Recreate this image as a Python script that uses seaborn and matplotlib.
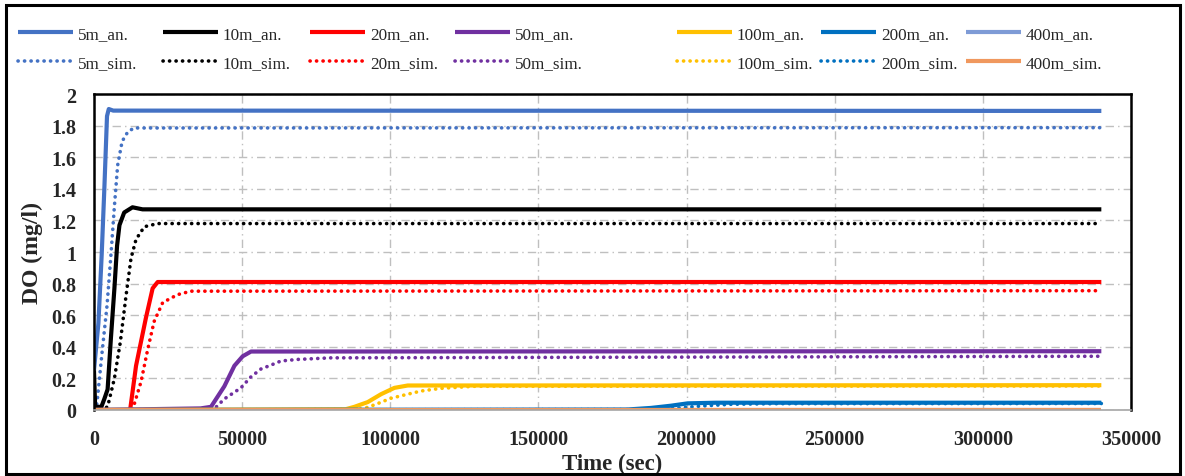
import numpy as np
import pandas as pd
import matplotlib
matplotlib.use("Agg")
import matplotlib.pyplot as plt
import seaborn as sns
from matplotlib.patches import Rectangle
from matplotlib.ticker import FuncFormatter, MultipleLocator

# ---------------- data ----------------
t_5m_an = [0, 1500, 2600, 3500, 4400, 5000, 6500, 340000]
do_5m_an = [0.25, 0.55, 0.98, 1.40, 1.86, 1.905, 1.895, 1.893]
t_5m_sim = [0, 1000, 2600, 4400, 5800, 6900, 8000, 9500, 11400, 13500, 340000]
do_5m_sim = [0.0, 0.04, 0.34, 0.66, 1.0, 1.29, 1.55, 1.70, 1.76, 1.785, 1.787]

t_10m_an = [0, 400, 2500, 3500, 4600, 5700, 6900, 7800, 8600, 10200, 13000, 16400, 340000]
do_10m_an = [0.25, 0.02, 0.02, 0.07, 0.13, 0.45, 0.77, 1.04, 1.17, 1.25, 1.283, 1.27, 1.27]
t_10m_sim = [0, 3000, 4600, 6900, 8900, 10800, 12500, 14200, 17000, 21500, 340000]
do_10m_sim = [0.0, 0.005, 0.02, 0.20, 0.43, 0.72, 0.96, 1.08, 1.16, 1.18, 1.18]

t_20m_an = [0, 12200, 14200, 17500, 19800, 21500, 340000]
do_20m_an = [0.0, 0.0, 0.28, 0.58, 0.77, 0.81, 0.81]
t_20m_sim = [0, 13000, 15900, 18100, 20300, 23200, 28200, 32700, 340000]
do_20m_sim = [0.0, 0.0, 0.18, 0.38, 0.56, 0.68, 0.73, 0.752, 0.755]

t_50m_an = [0, 36000, 39500, 44000, 47400, 50200, 53000, 340000]
do_50m_an = [0.0, 0.01, 0.02, 0.15, 0.28, 0.34, 0.37, 0.372]
t_50m_sim = [0, 40500, 44000, 49600, 53000, 56400, 59200, 63100, 68700, 80000, 340000]
do_50m_sim = [0.0, 0.005, 0.07, 0.14, 0.21, 0.26, 0.28, 0.31, 0.32, 0.33, 0.34]

t_100m_an = [0, 85000, 87900, 92400, 96900, 101400, 105900, 340000]
do_100m_an = [0.0, 0.005, 0.02, 0.05, 0.10, 0.14, 0.155, 0.157]
t_100m_sim = [0, 89000, 92400, 95700, 100200, 105900, 110400, 117100, 128300, 340000]
do_100m_sim = [0.0, 0.003, 0.017, 0.04, 0.074, 0.10, 0.12, 0.137, 0.15, 0.152]

t_200m_an = [0, 180000, 188000, 194700, 200400, 210000, 340000]
do_200m_an = [0.0, 0.003, 0.013, 0.027, 0.042, 0.046, 0.046]
t_200m_sim = [0, 190000, 197000, 205000, 215000, 230000, 340000]
do_200m_sim = [0.0, 0.003, 0.012, 0.025, 0.036, 0.040, 0.041]

t_400m_an = [0, 340000]
do_400m_an = [0.0, 0.0]
t_400m_sim = [0, 340000]
do_400m_sim = [0.0, 0.0]

distances = ["5m", "10m", "20m", "50m", "100m", "200m", "400m"]
series = {
    ("5m", "an"): (t_5m_an, do_5m_an), ("5m", "sim"): (t_5m_sim, do_5m_sim),
    ("10m", "an"): (t_10m_an, do_10m_an), ("10m", "sim"): (t_10m_sim, do_10m_sim),
    ("20m", "an"): (t_20m_an, do_20m_an), ("20m", "sim"): (t_20m_sim, do_20m_sim),
    ("50m", "an"): (t_50m_an, do_50m_an), ("50m", "sim"): (t_50m_sim, do_50m_sim),
    ("100m", "an"): (t_100m_an, do_100m_an), ("100m", "sim"): (t_100m_sim, do_100m_sim),
    ("200m", "an"): (t_200m_an, do_200m_an), ("200m", "sim"): (t_200m_sim, do_200m_sim),
    ("400m", "an"): (t_400m_an, do_400m_an), ("400m", "sim"): (t_400m_sim, do_400m_sim),
}
colors = {"5m": "#4472C4", "10m": "#000000", "20m": "#FF0000", "50m": "#7030A0",
          "100m": "#FFC000", "200m": "#0070C0", "400m": "#7E9BD6"}
sim400_color = "#F0985E"

# ---------------- style ----------------
sns.set_style("white")
plt.rcParams["font.family"] = ["Liberation Serif", "DejaVu Serif"]

W, H = 1185, 477
fig = plt.figure(figsize=(W / 100, H / 100), dpi=100)
ax = fig.add_axes([0.0793, 0.1384, 0.9544 - 0.0793, 0.8008 - 0.1384])

dot_style = (0, (0.05, 1.75))
for d in distances:
    for kind in ["an", "sim"]:
        t, v = series[(d, kind)]
        df = pd.DataFrame({"t": t, "do": v})
        label = f"{d}_{kind}."
        if kind == "an":
            sns.lineplot(data=df, x="t", y="do", ax=ax, color=colors[d], lw=3.0,
                         label=label, solid_capstyle="butt")
        elif d == "400m":
            sns.lineplot(data=df, x="t", y="do", ax=ax, color=sim400_color, lw=3.0,
                         label=label, solid_capstyle="butt")
        else:
            sns.lineplot(data=df, x="t", y="do", ax=ax, color=colors[d], lw=2.6,
                         linestyle=dot_style, dash_capstyle="round", label=label)

ax.set_xlim(0, 350000)
ax.set_ylim(0, 2)
ax.xaxis.set_major_locator(MultipleLocator(50000))
ax.yaxis.set_major_locator(MultipleLocator(0.2))
ax.yaxis.set_major_formatter(FuncFormatter(lambda v, p: f"{v:g}"))
ax.xaxis.set_major_formatter(FuncFormatter(lambda v, p: f"{int(round(v))}"))
ax.grid(True, color="#BFBFBF", lw=1.0, linestyle=(0, (6, 3, 1, 3)))
ax.tick_params(axis="both", length=0, labelsize=14.5)
ax.tick_params(axis="x", pad=13.5)
ax.tick_params(axis="y", pad=12.5)
for lab in ax.get_xticklabels() + ax.get_yticklabels():
    lab.set_fontweight("bold")
ax.set_xlabel("Time (sec)", fontsize=16.5, fontweight="bold", labelpad=3)
ax.set_ylabel("DO (mg/l)", fontsize=17, fontweight="bold", labelpad=6)
for s in ["top", "right", "left"]:
    ax.spines[s].set_color("black")
    ax.spines[s].set_linewidth(1.8)
ax.spines["bottom"].set_color("#A6A6A6")
ax.spines["bottom"].set_linewidth(1.2)

handles, labels = ax.get_legend_handles_labels()
ax.get_legend().remove()
col_x = [18, 163, 310, 455, 677, 821, 966]
for i, x0 in enumerate(col_x):
    leg = fig.legend(handles[2 * i:2 * i + 2], labels[2 * i:2 * i + 2], loc="upper left",
                     bbox_to_anchor=(x0 / W, 0.944), ncol=1, frameon=False,
                     fontsize=12.3, handlelength=3.2, handletextpad=0.3,
                     labelspacing=0.78, borderaxespad=0, borderpad=0)

fig.patches.append(Rectangle((0.005, 0.004), 0.991, 0.984, transform=fig.transFigure,
                             fill=False, lw=2.2, ec="black"))

fig.savefig("out.png", dpi=100)
